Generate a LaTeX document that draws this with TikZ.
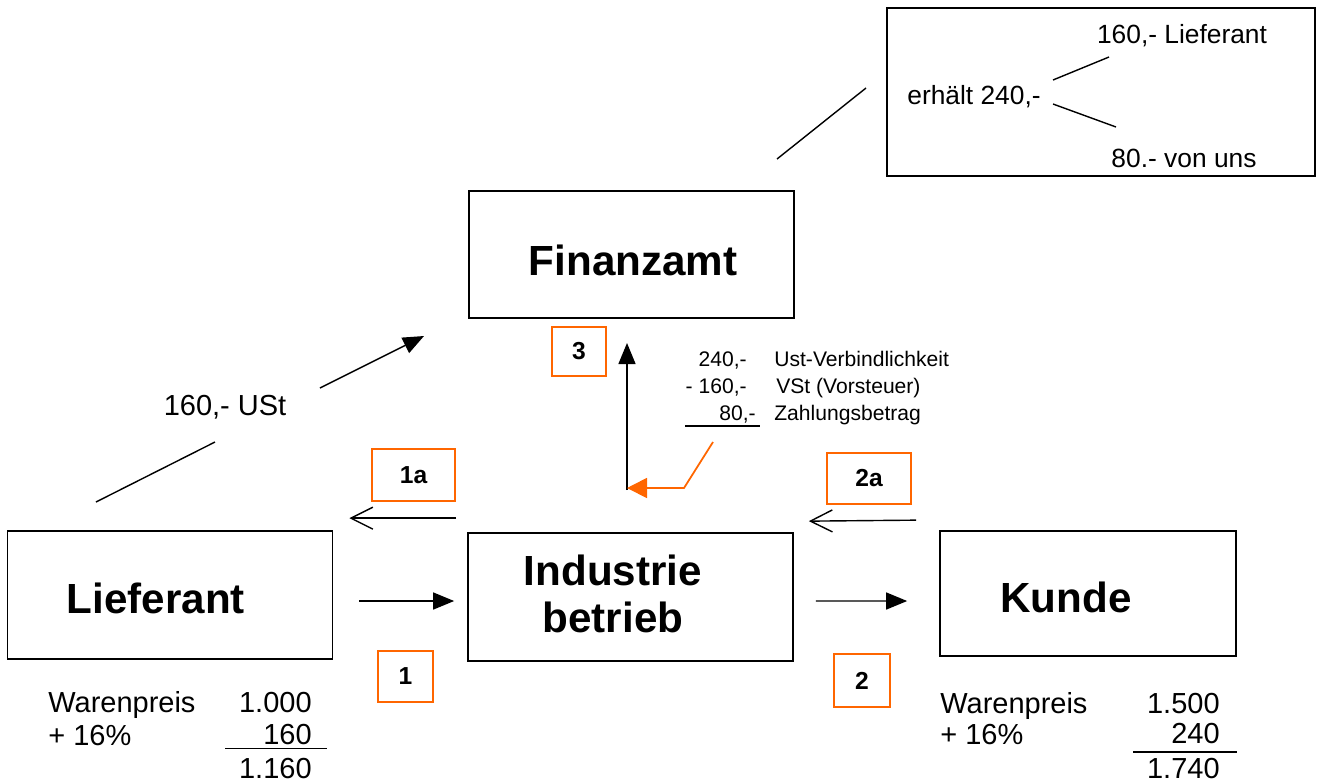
\documentclass[tikz,border=0pt]{standalone}
\usepackage{fontspec}
\setmainfont{Liberation Sans}
\usetikzlibrary{arrows.meta,calc}
\definecolor{stedge}{RGB}{0,0,0}
\definecolor{storange}{RGB}{255,102,0}
\tikzset{
  stbox/.style={
    draw=stedge, line width=1pt, inner sep=0pt,
    minimum width=6.5cm, minimum height=2.56cm
  },
  sttitle/.style={font=\fontsize{24}{27.2}\selectfont\bfseries, align=center, inner sep=0pt},
  numbox/.style={
    draw=storange, line width=1.1pt, inner sep=0pt,
    font=\fontsize{14}{16}\selectfont\bfseries
  },
  txt/.style={font=\fontsize{16.5}{20}\selectfont, inner sep=0pt},
  infotxt/.style={font=\fontsize{15}{18}\selectfont, inner sep=0pt},
  small/.style={font=\fontsize{12}{15}\selectfont, inner sep=0pt},
  ln/.style={draw=stedge, line width=0.8pt},
  arr/.style={ln, -{Triangle[length=0.42cm,width=0.34cm]}},
  barb/.style={ln, -{Straight Barb[length=0.44cm,width=0.44cm]}},
  oarr/.style={draw=storange, line width=1pt, -{Triangle[length=0.4cm,width=0.4cm]}}
}
\begin{document}
\begin{tikzpicture}[x=0.02cm, y=-0.02cm]
  \useasboundingbox (0,0) rectangle (1321,782);

  \node[stbox, minimum height=2.54cm] (fa) at (631.5,254.5) {};
  \node[sttitle] (fat) at (633,260) {Finanzamt};
  \node[stbox] (lief) at (170,595) {};
  \node[sttitle] (lieft) at (156,598) {Lieferant};
  \node[stbox] (ind) at (630.5,597) {};
  \node[sttitle] (indt) at (613,594) {Industrie\\betrieb};
  \node[stbox, minimum width=5.92cm, minimum height=2.5cm] (kd) at (1088,593.5) {};
  \node[sttitle] (kdt) at (1066,597) {Kunde};

  \node[numbox, minimum width=1.08cm, minimum height=0.98cm] (n3) at (579,351.5) {3};
  \node[numbox, minimum width=1.66cm, minimum height=1.04cm] (n1a) at (413.5,475) {1a};
  \node[numbox, minimum width=1.68cm, minimum height=1.02cm] (n2a) at (869,478.5) {2a};
  \node[numbox, minimum width=1.1cm, minimum height=1.02cm] (n1) at (405.5,676.5) {1};
  \node[numbox, minimum width=1.12cm, minimum height=1.06cm] (n2) at (862,680.5) {2};

  \node[draw=stedge, line width=1pt, minimum width=8.56cm, minimum height=3.36cm] (info) at (1101,92) {};
  \node[infotxt] (erh) at (974,97) {erhält 240,-};
  \node[infotxt, anchor=base] (il) at (1182,43) {160,- Lieferant};
  \node[infotxt, anchor=base] (iu) at (1184,167) {80.- von uns};
  \coordinate (b0) at (1053,80);
  \coordinate (b1) at (1109,57);
  \coordinate (b2) at (1053,104);
  \coordinate (b3) at (1116,127);
  \draw[ln] (b0) -- (b1);
  \draw[ln] (b2) -- (b3);
  \coordinate (p0) at (777,159);
  \coordinate (p1) at (866,88);
  \draw[ln] (p0) -- (p1);

  \coordinate (u0) at (96,502);
  \coordinate (u1) at (215,442);
  \coordinate (u2) at (320,388);
  \coordinate (u3) at (424,336);
  \draw[ln] (u0) -- (u1);
  \node[txt, anchor=base] (ust) at (225,415) {160,- USt};
  \draw[arr] (u2) -- (u3);

  \draw[barb] ($(ind.north west)+(-11,-14)$) -- ($(lief.north east)+(16,-12)$);
  \draw[barb] ($(kd.north west)+(-23,-10)$) -- ($(ind.north east)+(15,-11)$);
  \draw[arr] ($(lief.east)+(26,6)$) -- ($(ind.west)+(-13,4)$);
  \draw[arr] ($(ind.east)+(22,4)$) -- ($(kd.west)+(-32,7.5)$);

  \coordinate (v0) at (627,490);
  \coordinate (v1) at (627,343);
  \draw[arr] (v0) -- (v1);
  \coordinate (o0) at (713,442);
  \coordinate (o1) at (684,488);
  \coordinate (o2) at (627,488);
  \draw[oarr] (o0) -- (o1) -- (o2);

  \node[small, anchor=base east] (c1) at (747,366) {240,-};
  \node[small, anchor=base east] (c2) at (747,393) {- 160,-};
  \node[small, anchor=base east] (c3) at (756,420) {80,-};
  \node[small, anchor=base west] (d1) at (774,366) {Ust-Verbindlichkeit};
  \node[small, anchor=base west] (d2) at (776,393) {VSt (Vorsteuer)};
  \node[small, anchor=base west] (d3) at (774,420) {Zahlungsbetrag};
  \coordinate (c4) at (685,426);
  \coordinate (c5) at (760,426);
  \draw[ln] (c4) -- (c5);

  \node[txt, anchor=base west] (lw) at (48,712) {Warenpreis};
  \node[txt, anchor=base west] (lp) at (48,745) {+ 16\%};
  \node[txt, anchor=base east] (lw1) at (312,712) {1.000};
  \node[txt, anchor=base east] (lp1) at (312,744) {160};
  \node[txt, anchor=base east] (ls1) at (312,778) {1.160};
  \coordinate (l0) at (225,748.5);
  \coordinate (l1) at (327,748.5);
  \draw[ln] (l0) -- (l1);

  \node[txt, anchor=base west] (kw) at (940,713) {Warenpreis};
  \node[txt, anchor=base west] (kp) at (940,744) {+ 16\%};
  \node[txt, anchor=base east] (kw1) at (1220,713) {1.500};
  \node[txt, anchor=base east] (kp1) at (1220,743) {240};
  \node[txt, anchor=base east] (ks1) at (1220,778) {1.740};
  \coordinate (k0) at (1133,752);
  \coordinate (k1) at (1237,752);
  \draw[ln] (k0) -- (k1);
\end{tikzpicture}
\end{document}
